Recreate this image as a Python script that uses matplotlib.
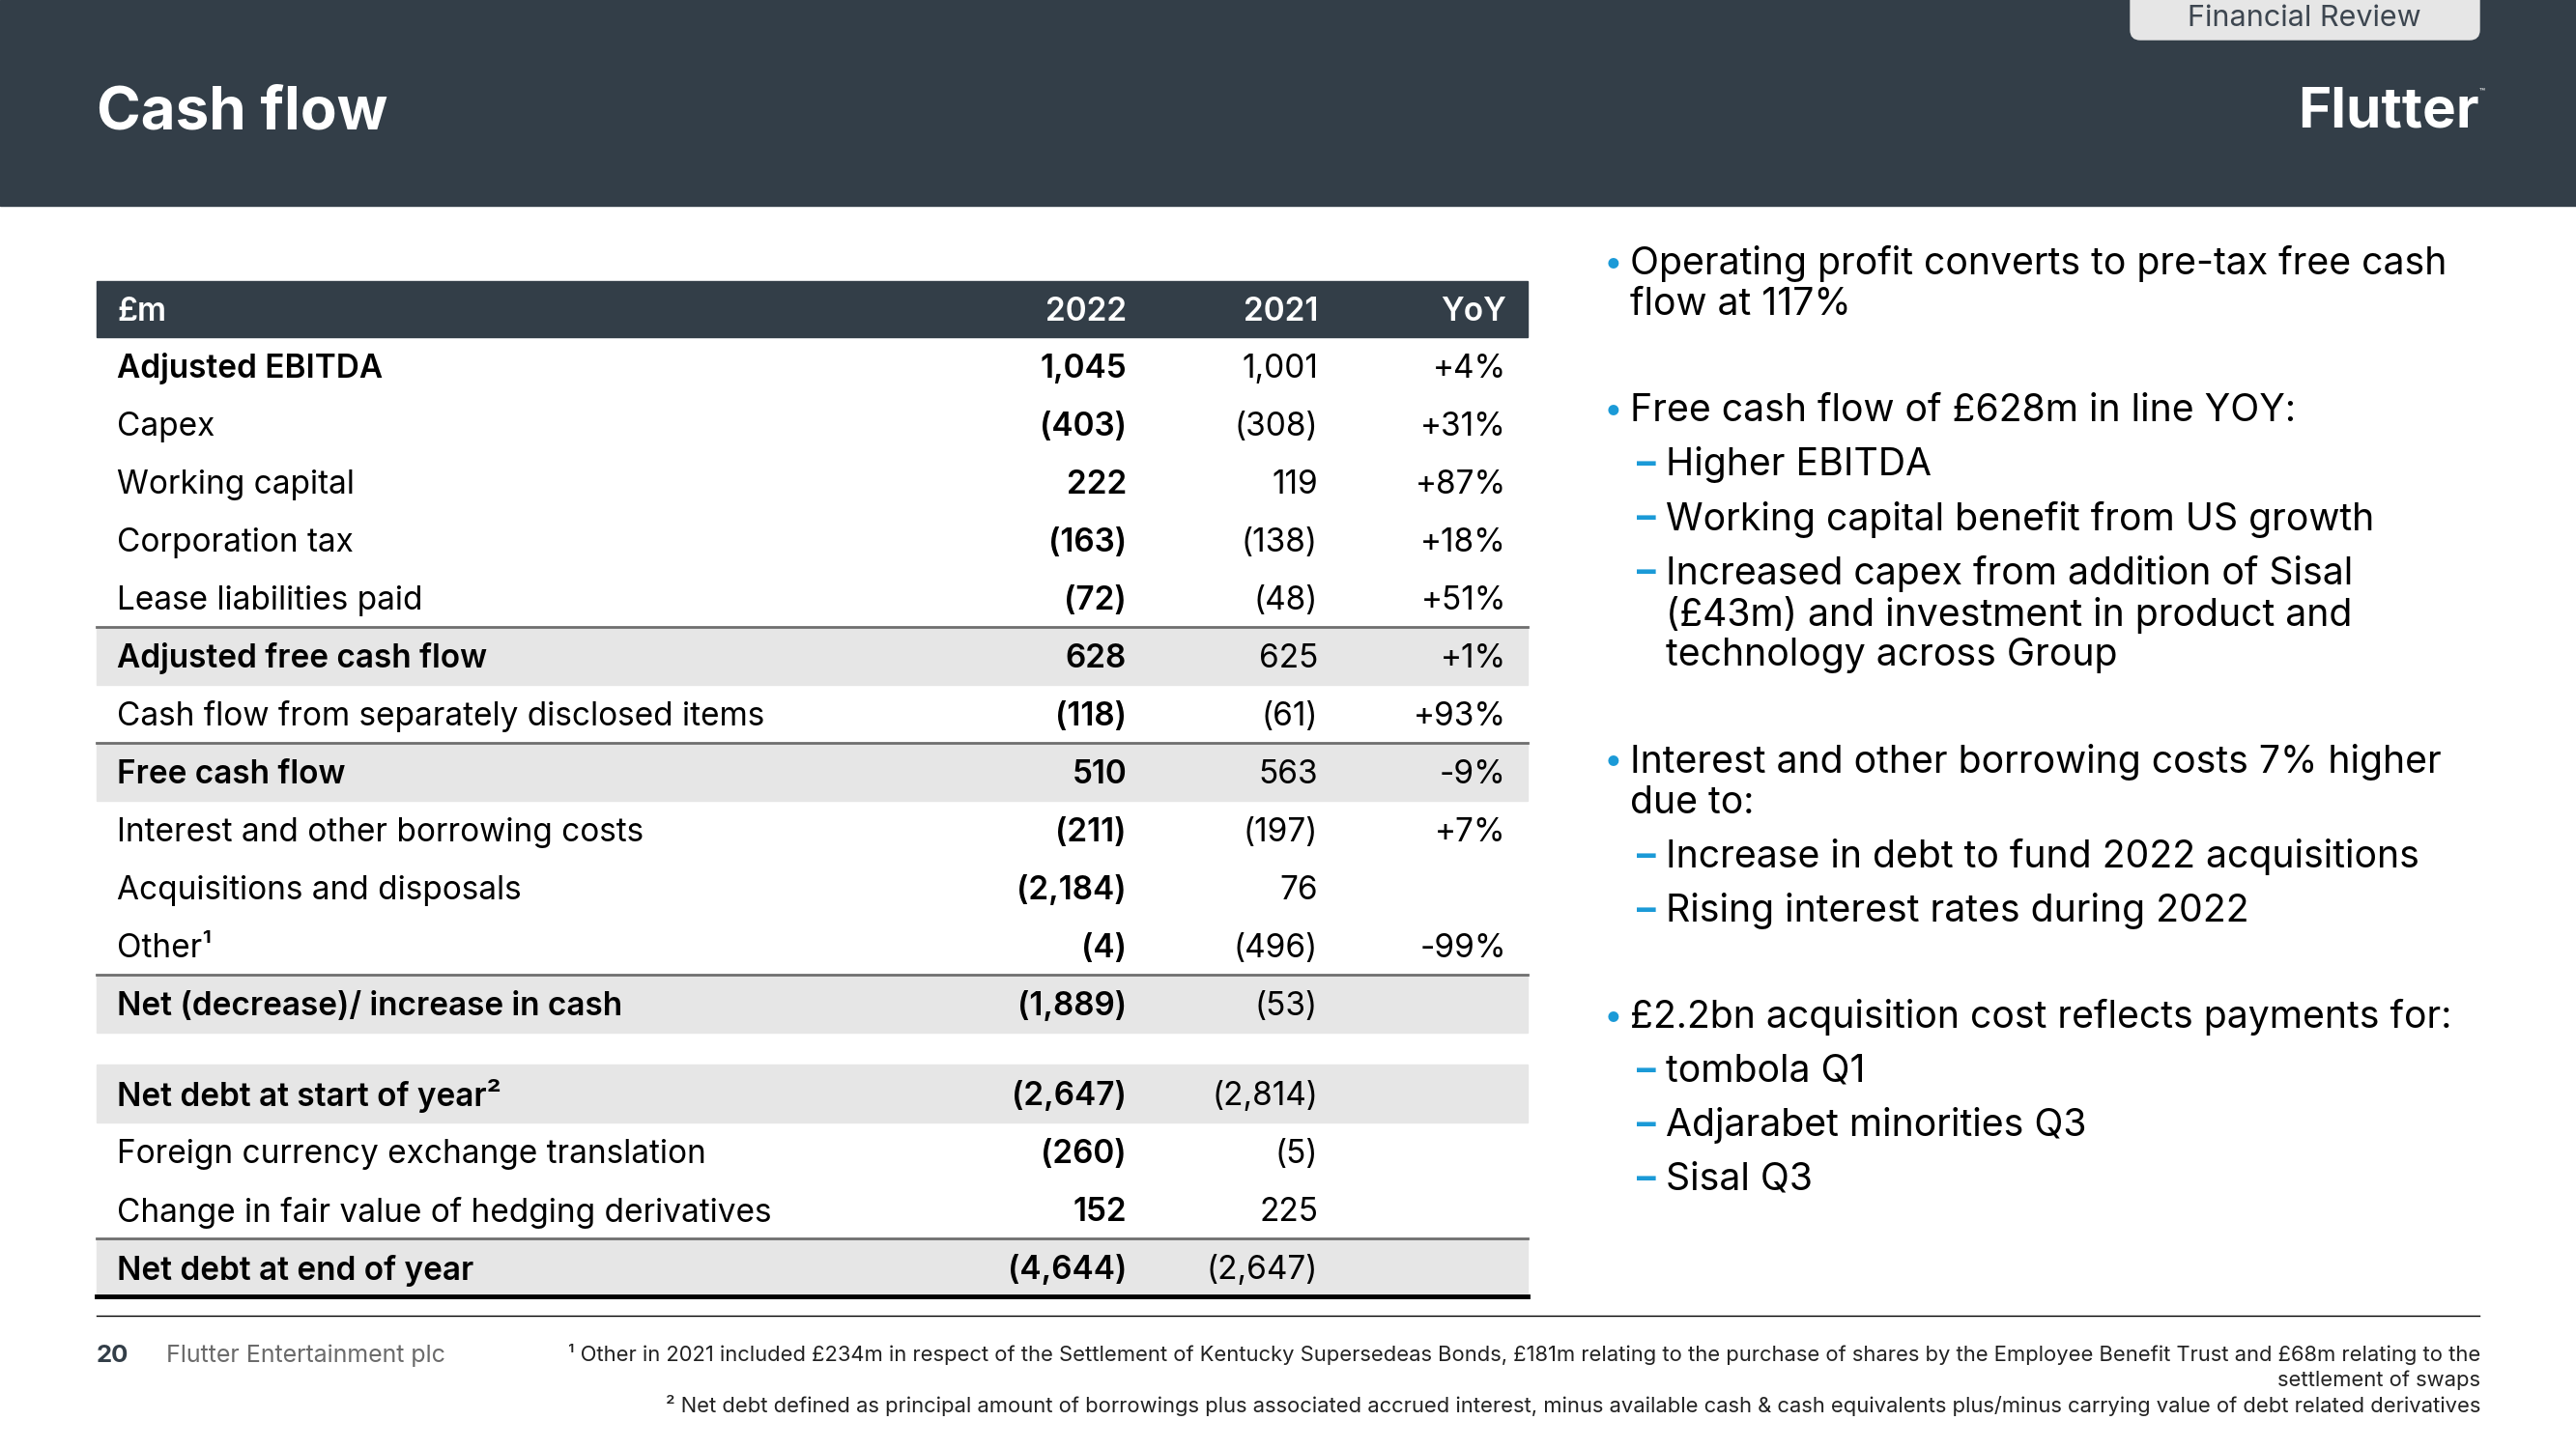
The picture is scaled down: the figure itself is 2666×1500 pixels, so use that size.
import matplotlib.pyplot as plt
from matplotlib.patches import Rectangle, FancyBboxPatch

plt.rcParams['font.family'] = ['Inter', 'DejaVu Sans']

# table data (GBP m)
labels = ["Adjusted EBITDA", "Capex", "Working capital", "Corporation tax",
          "Lease liabilities paid", "Adjusted free cash flow",
          "Cash flow from separately disclosed items", "Free cash flow",
          "Interest and other borrowing costs", "Acquisitions and disposals",
          "Other\u00b9", "Net (decrease)/ increase in cash",
          "Net debt at start of year\u00b2", "Foreign currency exchange translation",
          "Change in fair value of hedging derivatives", "Net debt at end of year"]
v2022 = [1045, -403, 222, -163, -72, 628, -118, 510, -211, -2184, -4, -1889,
         -2647, -260, 152, -4644]
v2021 = [1001, -308, 119, -138, -48, 625, -61, 563, -197, 76, -496, -53,
         -2814, -5, 225, -2647]
yoy = ["+4%", "+31%", "+87%", "+18%", "+51%", "+1%", "+93%", "-9%", "+7%", "",
       "-99%", "", "", "", "", ""]
columns = ["\u00a3m", "2022", "2021", "YoY"]

total_rows = ["Adjusted EBITDA", "Adjusted free cash flow", "Free cash flow",
              "Net (decrease)/ increase in cash", "Net debt at start of year\u00b2",
              "Net debt at end of year"]
shaded_rows = ["Adjusted free cash flow", "Free cash flow",
               "Net (decrease)/ increase in cash", "Net debt at start of year\u00b2",
               "Net debt at end of year"]
ruled_rows = ["Adjusted free cash flow", "Free cash flow",
              "Net (decrease)/ increase in cash", "Net debt at end of year"]
second_block = 12  # index where the net debt block starts

bullets = [
    ("Operating profit converts to pre-tax free cash\nflow at 117%", []),
    ("Free cash flow of \u00a3628m in line YOY:",
     ["Higher EBITDA", "Working capital benefit from US growth",
      "Increased capex from addition of Sisal\n(\u00a343m) and investment in product and\ntechnology across Group"]),
    ("Interest and other borrowing costs 7% higher\ndue to:",
     ["Increase in debt to fund 2022 acquisitions", "Rising interest rates during 2022"]),
    ("\u00a32.2bn acquisition cost reflects payments for:",
     ["tombola Q1", "Adjarabet minorities Q3", "Sisal Q3"]),
]

footnotes = [
    "\u00b9 Other in 2021 included \u00a3234m in respect of the Settlement of Kentucky Supersedeas Bonds, \u00a3181m relating to the purchase of shares by the Employee Benefit Trust and \u00a368m relating to the",
    "settlement of swaps",
    "\u00b2 Net debt defined as principal amount of borrowings plus associated accrued interest, minus available cash & cash equivalents plus/minus carrying value of debt related derivatives",
]


def fmt(v):
    s = "{:,}".format(abs(v))
    return "(%s)" % s if v < 0 else s


W, H = 2666, 1500
dark = "#333e48"
blue = "#1b9ad7"
shade = "#e6e6e6"
dy = 3  # nudge text down so caps sit visually centred

fig = plt.figure(figsize=(W / 100, H / 100), dpi=100)
ax = fig.add_axes([0, 0, 1, 1])
ax.set_xlim(0, W)
ax.set_ylim(H, 0)
ax.axis("off")

# header band
ax.add_patch(Rectangle((0, 0), W, 213, color=dark, zorder=0))
ax.text(100, 117, "Cash flow", color="white", fontsize=44.5, fontweight="bold",
        va="center", ha="left")
ax.add_patch(FancyBboxPatch((2205, -20), 361, 61, boxstyle="round,pad=0,rounding_size=10",
                            color=shade, zorder=1))
ax.text(2385, 19, "Financial Review", color="#3d4650", fontsize=22, ha="center",
        va="center", zorder=2)
ax.text(2566, 116, "Flutter", color="white", fontsize=42, fontweight="bold",
        ha="right", va="center")
ax.text(2566, 94, "\u2122", color="white", fontsize=7, ha="left", va="center")

# table
left, right = 100, 1581
label_x, c22, c21, cyoy = 121, 1166, 1364, 1559
row_h = 60
head_y = 320
first_y = 379
gap = 33
fs = 24

ax.add_patch(Rectangle((left, head_y - 29), right - left, 58, color=dark, zorder=1))
for txt, x, ha in zip(columns, [label_x, c22, c21, cyoy], ["left", "right", "right", "right"]):
    ax.text(x, head_y + dy, txt, color="white", fontsize=fs, fontweight="semibold",
            ha=ha, va="center", zorder=2)

for i, lab in enumerate(labels):
    y = first_y + i * row_h + (gap if i >= second_block else 0)
    if lab in shaded_rows:
        ax.add_patch(Rectangle((left, y - row_h / 2), right - left, row_h,
                               color=shade, zorder=0))
    if lab in ruled_rows:
        ax.plot([left, right], [y - row_h / 2] * 2, color="#6f6f6f", lw=2, zorder=1)
    w = "semibold" if lab in total_rows else "normal"
    ax.text(label_x, y + dy, lab, fontsize=fs, fontweight=w, ha="left", va="center",
            color="black")
    ax.text(c22, y + dy, fmt(v2022[i]), fontsize=fs, fontweight="semibold", ha="right",
            va="center", color="black")
    ax.text(c21, y + dy, fmt(v2021[i]), fontsize=fs, ha="right", va="center", color="black")
    if yoy[i]:
        ax.text(cyoy, y + dy, yoy[i], fontsize=fs, ha="right", va="center", color="black")

last_y = first_y + (len(labels) - 1) * row_h + gap
ax.plot([left, right], [last_y + row_h / 2] * 2, color="black", lw=3.5, zorder=2)

# bullets on the right
bx, tx, dx, sx = 1660, 1687, 1694, 1724
bfs = 28.2
wrap_h, item_h, block_gap = 42.5, 56, 110
y = 270 + dy
for head, subs in bullets:
    ax.text(bx, y, "\u2022", color=blue, fontsize=bfs * 0.9, ha="left", va="center")
    lines = head.split("\n")
    for k, line in enumerate(lines):
        ax.text(tx, y + k * wrap_h, line, fontsize=bfs, ha="left", va="center",
                color="black")
    y += (len(lines) - 1) * wrap_h + item_h
    for sub in subs:
        ax.text(dx, y, "\u2013", color=blue, fontsize=bfs, fontweight="bold",
                ha="left", va="center")
        sl = sub.split("\n")
        for k, line in enumerate(sl):
            ax.text(sx, y + k * wrap_h, line, fontsize=bfs, ha="left", va="center",
                    color="black")
        y += (len(sl) - 1) * wrap_h + item_h
    y += block_gap - item_h

# footer
ax.plot([100, 2566], [1362, 1362], color="black", lw=1)
ax.text(100, 1403, "20", fontsize=18.5, fontweight="bold", color="#333e48",
        ha="left", va="center")
ax.text(172, 1403, "Flutter Entertainment plc", fontsize=18, color="#6b6b6b",
        ha="left", va="center")
for k, note in enumerate(footnotes):
    ax.text(2567, 1402 + k * 26.5, note, fontsize=15.8, color="#222222",
            ha="right", va="center")

fig.savefig("out.png", dpi=100)
